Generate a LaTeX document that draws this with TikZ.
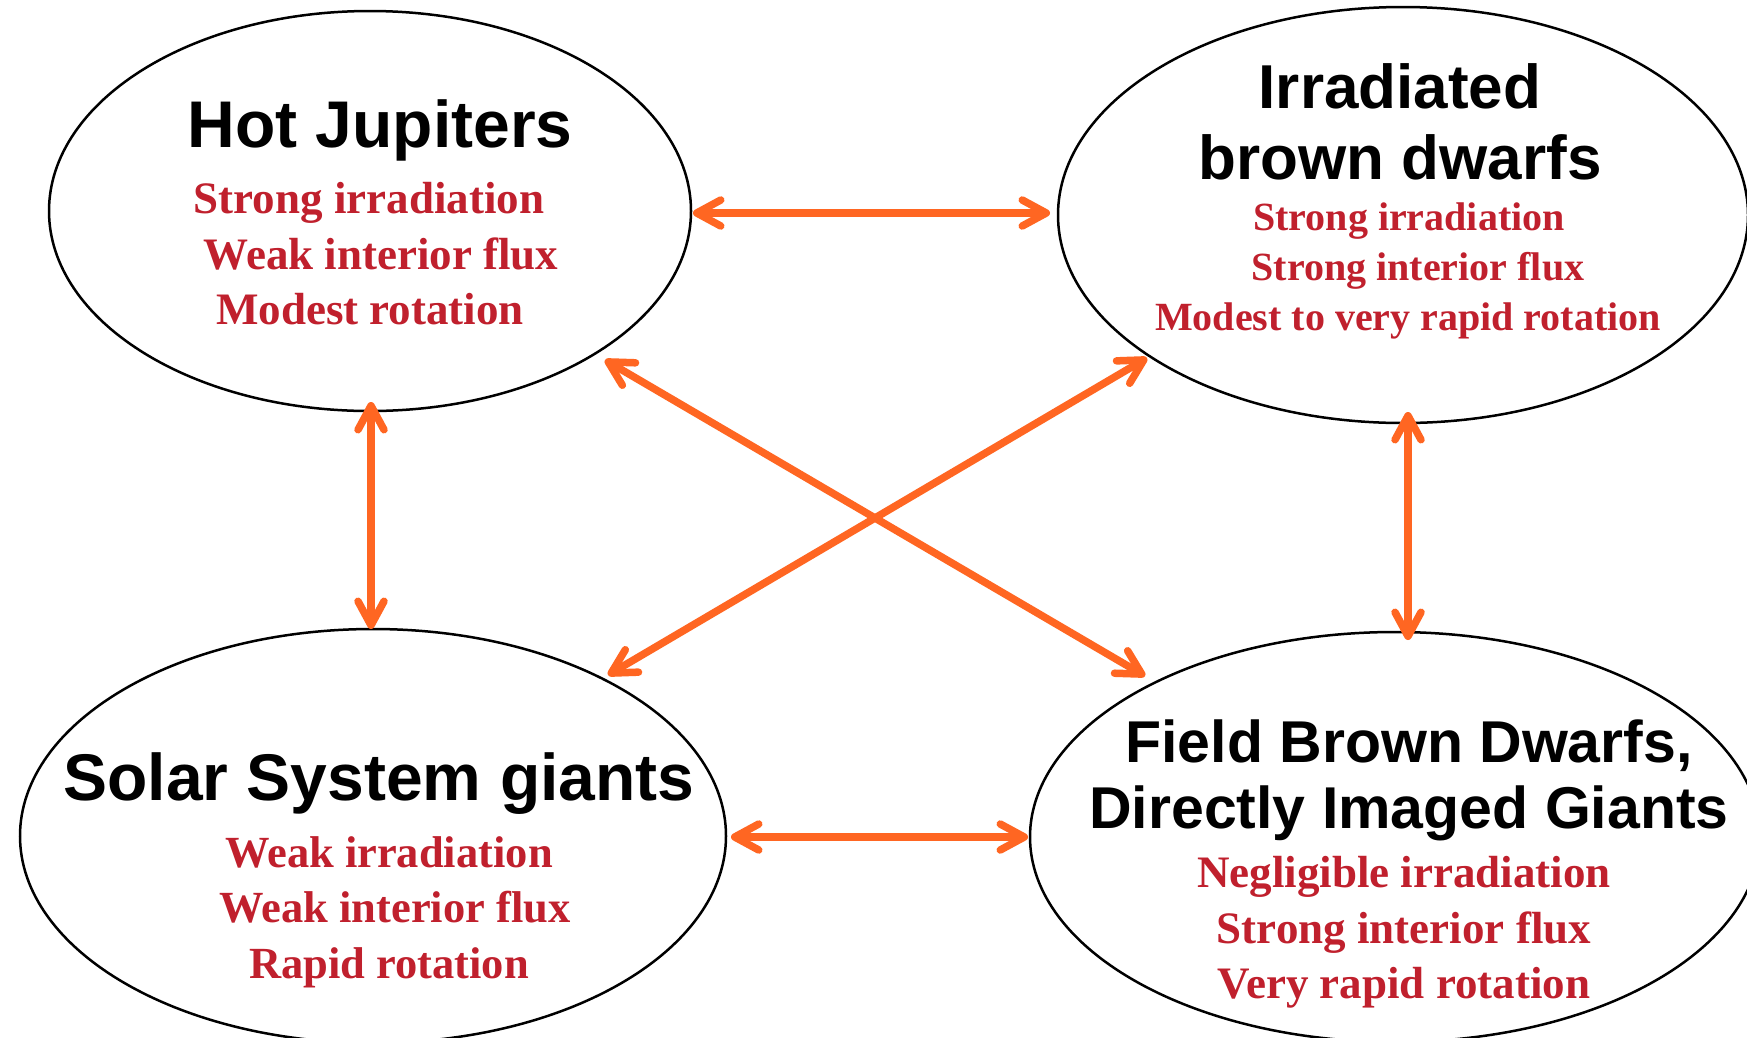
\documentclass[tikz,border=0pt]{standalone}
\usepackage{fontspec}
\newfontfamily\hfont{Liberation Sans}
\newfontfamily\rfont{Liberation Serif}
\usetikzlibrary{arrows.meta,shapes.geometric}
\definecolor{arrowc}{RGB}{255,102,34}
\definecolor{redc}{RGB}{192,32,45}
\begin{document}
\begin{tikzpicture}[x=1pt,y=-1pt,
  ell/.style={draw=black, line width=2.5pt, ellipse, inner sep=0pt},
  ttl/.style={anchor=base, inner sep=0pt, text=black, font=\hfont\bfseries\fontsize{#1}{#1}\selectfont},
  rd/.style={anchor=base, inner sep=0pt, text=redc, font=\rfont\bfseries\fontsize{#1}{#1}\selectfont},
  arr/.style={draw=arrowc, line width=7.5pt, {Straight Barb[length=24pt,width=26pt,round]}-{Straight Barb[length=24pt,width=26pt,round]}}]
\useasboundingbox (0,0) rectangle (1747,1037);
\clip (0,0) rectangle (1747,1037);
\fill[white] (0,0) rectangle (1747,1037);
% ellipses
\node[ell, minimum width=642pt, minimum height=400pt] (hj) at (370,211) {};
\node[ell, minimum width=690pt, minimum height=416pt] (irr) at (1403,215) {};
\node[ell, minimum width=706pt, minimum height=414pt] (ssg) at (373,836) {};
\node[ell, minimum width=730pt, minimum height=410pt] (fbd) at (1395,837) {};
% Hot Jupiters
\node[ttl=66] (hjt) at (380,147) {Hot Jupiters};
\node[rd=45] (hj1) at (369,213) {Strong irradiation};
\node[rd=45] (hj2) at (381,269) {Weak interior flux};
\node[rd=45] (hj3) at (370,324) {Modest rotation};
% Irradiated brown dwarfs
\node[ttl=62] (irrt1) at (1400,108) {Irradiated};
\node[ttl=62] (irrt2) at (1400,179) {brown dwarfs};
\node[rd=40] (irr1) at (1409,230) {Strong irradiation};
\node[rd=40] (irr2) at (1418,280) {Strong interior flux};
\node[rd=40] (irr3) at (1408,330) {Modest to very rapid rotation};
% Solar System giants
\node[ttl=66] (ssgt) at (379,800) {Solar System giants};
\node[rd=44.5] (ssg1) at (389,867) {Weak irradiation};
\node[rd=44.5] (ssg2) at (395,922) {Weak interior flux};
\node[rd=44.5] (ssg3) at (389,978) {Rapid rotation};
% Field brown dwarfs
\node[ttl=59] (fbdt1) at (1409,762) {Field Brown Dwarfs,};
\node[ttl=59] (fbdt2) at (1409,828) {Directly Imaged Giants};
\node[rd=45] (fbd1) at (1404,887) {Negligible irradiation};
\node[rd=45] (fbd2) at (1404,943) {Strong interior flux};
\node[rd=45] (fbd3) at (1404,998) {Very rapid rotation};
% arrow end points
\coordinate (hjE) at (693,213);
\coordinate (irrW) at (1050,213);
\coordinate (hjS) at (371,402);
\coordinate (ssgN) at (371,629);
\coordinate (irrS) at (1408,412);
\coordinate (fbdN) at (1408,640);
\coordinate (ssgE) at (731,837);
\coordinate (fbdW) at (1028,837);
\coordinate (hjSE) at (605,360);
\coordinate (fbdNW) at (1145,676);
\coordinate (irrSW) at (1147,358);
\coordinate (ssgNE) at (608,675);
\draw[arr] (hjE) -- (irrW);
\draw[arr] (hjS) -- (ssgN);
\draw[arr] (irrS) -- (fbdN);
\draw[arr] (ssgE) -- (fbdW);
\draw[arr] (hjSE) -- (fbdNW);
\draw[arr] (irrSW) -- (ssgNE);
\end{tikzpicture}
\end{document}
